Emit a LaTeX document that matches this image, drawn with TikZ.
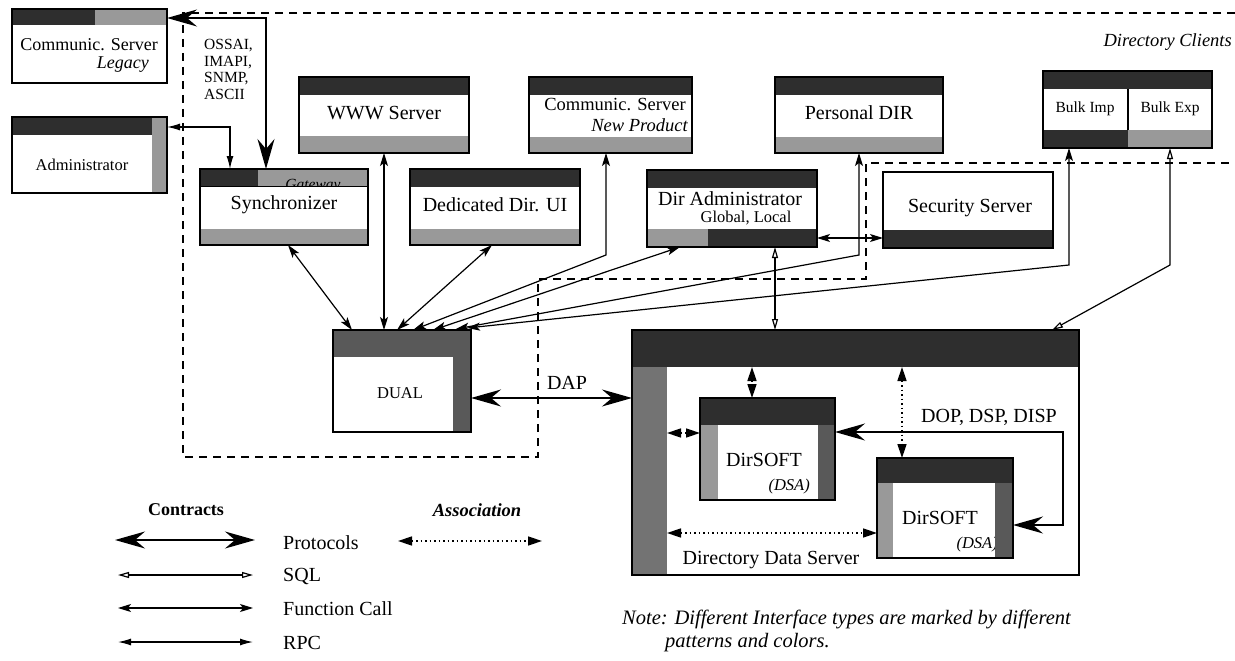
\documentclass[tikz,border=0pt]{standalone}
\usepackage{fontspec}
\setmainfont{Liberation Serif}
\usetikzlibrary{arrows.meta,calc}
\begin{document}
\begin{tikzpicture}[x=1pt,y=-1pt,
  box/.style={fill=white, draw=none, inner sep=0pt, outer sep=0pt, anchor=north west},
  frame/.style={draw=black, line width=1.3pt},
  dk/.style={fill=black!82},
  lt/.style={fill=black!40},
  md/.style={fill=black!65},
  t/.style={inner sep=0pt, font=\fontsize{20}{23}\selectfont},
  ts/.style={inner sep=0pt, font=\fontsize{16.5}{19}\selectfont},
  ti/.style={inner sep=0pt, font=\fontsize{16.5}{19}\selectfont\itshape},
  bound/.style={line width=1.4pt, dash pattern=on 8pt off 6pt},
  proto/.style={line width=1.6pt, {Stealth[length=30pt,width=17pt,inset=10pt]}-{Stealth[length=30pt,width=17pt,inset=10pt]}},
  fc/.style={line width=1.2pt, {Stealth[length=13pt,width=8pt,inset=3pt]}-{Stealth[length=13pt,width=8pt,inset=3pt]}},
  rpc/.style={line width=1.2pt, {Latex[length=13pt,width=7pt]}-{Latex[length=13pt,width=7pt]}},
  sql/.style={line width=1.2pt, {Triangle[open,length=11pt,width=6pt,line width=1.2pt]}-{Triangle[open,length=11pt,width=6pt,line width=1.2pt]}},
  assoc/.style={line width=1.5pt, dash pattern=on 1.5pt off 3pt, {Triangle[length=14pt,width=9pt]}-{Triangle[length=14pt,width=9pt]}}
]
\useasboundingbox (0,0) rectangle (1235,661);
\fill[white] (0,0) rectangle (1235,661);

% boundary of Directory Clients
\draw[bound] (1235,13) -- (183,13) -- (183,457) -- (538,457) -- (538,279) -- (866,279) -- (866,163) -- (1235,163);
\node[inner sep=0pt, font=\fontsize{18.5}{21}\selectfont\itshape, anchor=east] (dcT) at (1232,42) {Directory Clients};

% ---- boxes ----
\node[box, minimum width=155pt, minimum height=74pt] (legacy) at (12,9) {};
\fill[dk] (legacy.north west) rectangle ($(legacy.north west)+(83,16)$);
\fill[lt] ($(legacy.north west)+(83,0)$) rectangle ($(legacy.north east)+(0,16)$);
\draw[frame] (legacy.north west) rectangle (legacy.south east);
\node[t, font=\fontsize{18}{21}\selectfont] (legT) at (89,45) {Communic. Server};
\node[t, font=\fontsize{18}{21}\selectfont\itshape, anchor=east] (legT2) at (149,65) {Legacy};

\node[box, minimum width=155pt, minimum height=76pt] (admin) at (12,117) {};
\fill[dk] (admin.north west) rectangle ($(admin.north east)+(-15,18)$);
\fill[lt] ($(admin.north east)+(-15,0)$) rectangle (admin.south east);
\draw[frame] (admin.north west) rectangle (admin.south east);
\node[ts] (adminT) at (82,165) {Administrator};

\node[box, minimum width=170pt, minimum height=76pt] (www) at (299,77) {};
\fill[dk] (www.north west) rectangle ($(www.north east)+(0,18)$);
\fill[lt] ($(www.south west)+(0,-17)$) rectangle (www.south east);
\draw[frame] (www.north west) rectangle (www.south east);
\node[t] (wwwT) at (384,113) {WWW Server};

\node[box, minimum width=168pt, minimum height=76pt] (sync) at (200,169) {};
\fill[dk] (sync.north west) rectangle ($(sync.north west)+(58,17)$);
\fill[lt] ($(sync.north west)+(58,0)$) rectangle ($(sync.north east)+(0,17)$);
\begin{scope}
\clip ($(sync.north west)+(58,0)$) rectangle ($(sync.north east)+(0,17)$);
\node[inner sep=0pt, font=\fontsize{15.5}{18}\selectfont\itshape, anchor=base] (gwT) at (313,189) {Gateway};
\end{scope}
\fill[lt] ($(sync.south west)+(0,-16)$) rectangle (sync.south east);
\draw[frame] (sync.north west) rectangle (sync.south east);
\draw[line width=1pt] ($(sync.north west)+(0,17)$) -- ($(sync.north east)+(0,17)$);
\node[t] (syncT) at (284,205) {Synchronizer};

\node[box, minimum width=170pt, minimum height=76pt] (ded) at (410,169) {};
\fill[dk] (ded.north west) rectangle ($(ded.north east)+(0,18)$);
\fill[lt] ($(ded.south west)+(0,-16)$) rectangle (ded.south east);
\draw[frame] (ded.north west) rectangle (ded.south east);
\node[t] (dedT) at (495,205) {Dedicated Dir. UI};

\node[box, minimum width=163pt, minimum height=76pt] (cnp) at (529,77) {};
\fill[dk] (cnp.north west) rectangle ($(cnp.north east)+(0,18)$);
\fill[lt] ($(cnp.south west)+(0,-16)$) rectangle (cnp.south east);
\draw[frame] (cnp.north west) rectangle (cnp.south east);
\node[t, font=\fontsize{18.5}{21}\selectfont] (cnpT) at (615,105) {Communic. Server};
\node[t, font=\fontsize{18.5}{21}\selectfont\itshape, anchor=east] (cnpT2) at (688,125) {New Product};

\node[box, minimum width=170pt, minimum height=77pt] (diradm) at (647,170) {};
\fill[dk] (diradm.north west) rectangle ($(diradm.north east)+(0,18)$);
\fill[lt] ($(diradm.south west)+(0,-18)$) rectangle ($(diradm.south west)+(61,0)$);
\fill[dk] ($(diradm.south west)+(61,-18)$) rectangle (diradm.south east);
\draw[frame] (diradm.north west) rectangle (diradm.south east);
\node[t] (diradmT) at (730,199) {Dir Administrator};
\node[ts] (diradmT2) at (746,218) {Global, Local};

\node[box, minimum width=168pt, minimum height=76pt] (pers) at (775,77) {};
\fill[dk] (pers.north west) rectangle ($(pers.north east)+(0,18)$);
\fill[lt] ($(pers.south west)+(0,-16)$) rectangle (pers.south east);
\draw[frame] (pers.north west) rectangle (pers.south east);
\node[t] (persT) at (859,113) {Personal DIR};

\node[box, minimum width=170pt, minimum height=76pt] (sec) at (883,172) {};
\fill[dk] ($(sec.south west)+(0,-18)$) rectangle (sec.south east);
\draw[frame] (sec.north west) rectangle (sec.south east);
\node[t] (secT) at (970,208) {Security Server};

\node[box, minimum width=169pt, minimum height=77pt] (bulk) at (1043,71) {};
\fill[dk] (bulk.north west) rectangle ($(bulk.north east)+(0,18)$);
\fill[dk] ($(bulk.south west)+(0,-18)$) rectangle ($(bulk.south west)+(85,0)$);
\fill[lt] ($(bulk.south west)+(85,-18)$) rectangle (bulk.south east);
\draw[line width=1.3pt] ($(bulk.north west)+(85,18)$) -- ($(bulk.south west)+(85,-18)$);
\draw[frame] (bulk.north west) rectangle (bulk.south east);
\node[ts, font=\fontsize{15.5}{18}\selectfont] (bimT) at (1085,109) {Bulk Imp};
\node[ts, font=\fontsize{15.5}{18}\selectfont] (bexT) at (1170,109) {Bulk Exp};

\node[box, minimum width=138pt, minimum height=102pt] (dual) at (333,330) {};
\fill[md] (dual.north west) rectangle ($(dual.north east)+(0,27)$);
\fill[md] ($(dual.north east)+(-18,27)$) rectangle (dual.south east);
\draw[frame] (dual.north west) rectangle (dual.south east);
\node[ts] (dualT) at (400,393) {DUAL};

\node[box, minimum width=447pt, minimum height=245pt] (dds) at (632,330) {};
\fill[dk] (dds.north west) rectangle ($(dds.north east)+(0,37)$);
\fill[fill=black!55] ($(dds.north west)+(0,37)$) rectangle ($(dds.south west)+(35,0)$);
\draw[frame] (dds.north west) rectangle (dds.south east);
\node[t] (ddsT) at (771,560) {Directory Data Server};

\node[box, minimum width=135pt, minimum height=102pt] (ds1) at (700,398) {};
\fill[dk] (ds1.north west) rectangle ($(ds1.north east)+(0,27)$);
\fill[lt] ($(ds1.north west)+(0,27)$) rectangle ($(ds1.south west)+(18,0)$);
\fill[md] ($(ds1.north east)+(-17,27)$) rectangle (ds1.south east);
\draw[frame] (ds1.north west) rectangle (ds1.south east);
\node[t] (ds1T) at (764,460) {DirSOFT};
\node[ti] (ds1T2) [anchor=east] at (810,487) {(DSA)};

\node[box, minimum width=136pt, minimum height=100pt] (ds2) at (877,458) {};
\fill[dk] (ds2.north west) rectangle ($(ds2.north east)+(0,25)$);
\fill[lt] ($(ds2.north west)+(0,25)$) rectangle ($(ds2.south west)+(16,0)$);
\node[t] (ds2T) at (940,518) {DirSOFT};
\node[ti] (ds2T2) [anchor=east] at (998,545) {(DSA)};
\fill[md] ($(ds2.north east)+(-18,25)$) rectangle (ds2.south east);
\draw[frame] (ds2.north west) rectangle (ds2.south east);

% ---- connectors ----
\draw[proto] ($(legacy.north east)+(0,9)$) -| ($(sync.north west)+(66,0)$);
\node[inner sep=0pt, font=\fontsize{15.5}{16.6}\selectfont, align=left, anchor=north west] (protoT) at (204,39) {OSSAI,\\IMAPI,\\SNMP,\\ASCII};
\draw[rpc] ($(admin.north east)+(0,10)$) -| ($(sync.north west)+(30,0)$);

\draw[fc] ($(sync.south west)+(88,0)$) -- ($(dual.north west)+(19,0)$);
\draw[fc] (www.south) -- ($(dual.north west)+(51,0)$);
\draw[fc] ($(ded.south west)+(82,0)$) -- ($(dual.north west)+(64,0)$);
\draw[fc] ($(cnp.south west)+(77,0)$) -- ++(0,102) -- ($(dual.north west)+(80,0)$);
\draw[fc] ($(diradm.south west)+(33,0)$) -- ($(dual.north west)+(100,0)$);
\draw[fc] ($(pers.south west)+(84,0)$) -- ++(0,102) -- ($(dual.north west)+(123,-1)$);
\draw[fc] ($(bulk.south west)+(26,0)$) -- ++(0,117) -- ($(dual.north west)+(134,-2)$);
\draw[fc] ($(diradm.south east)+(0,-9)$) -- ($(sec.south west)+(0,-10)$);
\draw[sql] ($(diradm.south west)+(128,0)$) -- ($(dds.north west)+(143,0)$);
\draw[sql] ($(bulk.south west)+(127,0)$) -- ++(0,117) -- ($(dds.north west)+(420,0)$);

\coordinate (dapA) at ($(dual.south east)+(0,-34)$);
\draw[proto] (dapA) -- (dapA -| dds.west);
\node[t] (dapT) at (567,383) {DAP};

\draw[proto] ($(ds1.north east)+(0,34)$) -- ++(228,0) |- ($(ds2.north east)+(0,67)$);
\node[t] (dopT) at (989,417) {DOP, DSP, DISP};

\draw[assoc] ($(dds.north west)+(120,37)$) -- ($(ds1.north west)+(52,0)$);
\draw[assoc] ($(dds.north west)+(270,37)$) -- ($(ds2.north west)+(25,0)$);
\draw[assoc] ($(dds.north west)+(35,103)$) -- ($(ds1.north west)+(0,35)$);
\draw[assoc] ($(dds.north west)+(35,203)$) -- ($(ds2.north west)+(0,75)$);

% ---- legend ----
\node[inner sep=0pt, font=\fontsize{18}{21}\selectfont\bfseries] (contT) at (186,510) {Contracts};
\node[inner sep=0pt, font=\fontsize{18.5}{21}\selectfont\bfseries\itshape] (assT) at (477,510) {Association};
\coordinate (lpA) at (115,540); \coordinate (lpB) at (255,540);
\draw[proto] (lpA) -- (lpB);
\coordinate (laA) at (398,541); \coordinate (laB) at (542,541);
\draw[assoc] (laA) -- (laB);
\coordinate (lsA) at (118,575); \coordinate (lsB) at (253,575);
\draw[sql] (lsA) -- (lsB);
\coordinate (lfA) at (118,608); \coordinate (lfB) at (253,608);
\draw[fc] (lfA) -- (lfB);
\coordinate (lrA) at (118,642); \coordinate (lrB) at (253,642);
\draw[rpc] (lrA) -- (lrB);
\node[t, anchor=west] (lpT) at (283,543) {Protocols};
\node[t, anchor=west] (lsT) at (283,576) {SQL};
\node[t, anchor=west] (lfT) at (283,609) {Function Call};
\node[t, anchor=west] (lrT) at (283,643) {RPC};

\node[inner sep=0pt, font=\fontsize{20.5}{23}\selectfont\itshape, anchor=west] (noteT) at (622,619) {Note: Different Interface types are marked by different};
\node[inner sep=0pt, font=\fontsize{20.5}{23}\selectfont\itshape, anchor=west] (noteT2) at (665,643) {patterns and colors.};
\end{tikzpicture}
\end{document}
